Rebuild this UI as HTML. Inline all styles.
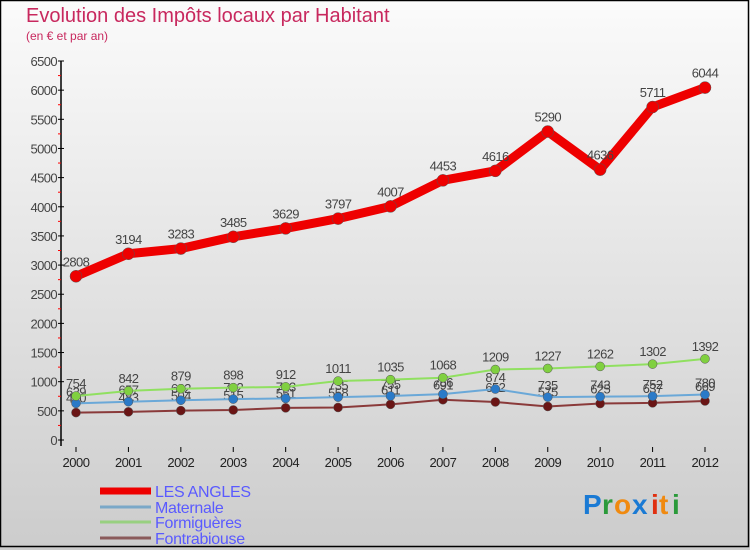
<!DOCTYPE html>
<html><head><meta charset="utf-8"><style>
html,body{margin:0;padding:0}
body{width:750px;height:550px;overflow:hidden;font-family:"Liberation Sans","DejaVu Sans",sans-serif}
</style></head><body>
<svg id="chart" width="750" height="550" viewBox="0 0 750 550" xmlns="http://www.w3.org/2000/svg">
<defs><linearGradient id="bg" x1="0" y1="0" x2="0" y2="1"><stop offset="0" stop-color="#fbfbfb"/><stop offset="1" stop-color="#cccccc"/></linearGradient></defs>
<rect x="0" y="0" width="750" height="550" fill="url(#bg)"/>
<rect x="0.5" y="0.5" width="748" height="546" fill="none" stroke="#000" stroke-width="1.5"/>
<text x="26" y="22" font-size="20" fill="#c8285e">Evolution des Impôts locaux par Habitant</text>
<text x="26" y="40" font-size="12" fill="#c8285e">(en € et par an)</text>
<g id="axes"></g><g id="series"></g><g id="legend"></g>
<g font-size="28" font-weight="bold">
<text x="583" y="514" fill="#1a7ad4">P</text><text x="602" y="514" fill="#2a9a3a">r</text><text x="614" y="514" fill="#f08a10">o</text><text x="632" y="514" fill="#1a7ad4">x</text><text x="651" y="514" fill="#e03010">i</text><text x="659" y="514" fill="#f08a10">t</text><text x="672" y="514" fill="#2a9a3a">i</text>
</g>
</svg>
<script>
const years=[2000,2001,2002,2003,2004,2005,2006,2007,2008,2009,2010,2011,2012];
const lesAngles=[2808,3194,3283,3485,3629,3797,4007,4453,4616,5290,4636,5711,6044];
const maternale=[629,657,682,702,713,735,755,786,874,735,743,752,780];
const formigueres=[754,842,879,898,912,1011,1035,1068,1209,1227,1262,1302,1392];
const fontrabiouse=[470,483,504,515,551,558,611,691,652,575,625,637,669];
const yTicks=[0,500,1000,1500,2000,2500,3000,3500,4000,4500,5000,5500,6000,6500];
const NS="http://www.w3.org/2000/svg";
const X=i=>76+i*(705-76)/(years.length-1);
const Y=v=>440-v*(440-61)/6500;
function mk(tag,attrs,parent,txt){const e=document.createElementNS(NS,tag);for(const k in attrs)e.setAttribute(k,attrs[k]);if(txt!==undefined)e.textContent=txt;parent.appendChild(e);return e;}
const axes=document.getElementById('axes');
let a=mk('line',{x1:61,y1:61,x2:61,y2:446,stroke:'#000','stroke-width':1.5},axes);


yTicks.forEach((t,i)=>{
  const y=Y(t);
  mk('line',{x1:58,y1:y,x2:64,y2:y,stroke:'#000'},axes);
  const tl=mk('text',{x:57,y:y+5,'font-size':13,fill:'#444','text-anchor':'end','letter-spacing':'-0.6'},axes,String(t));
  
  
  if(i<yTicks.length-1){const ym=Y(t+250);mk('line',{x1:58,y1:ym,x2:61,y2:ym,stroke:'#f00'},axes);}
});
years.forEach((yr,i)=>{
  const x=X(i);
  mk('line',{x1:x,y1:447,x2:x,y2:452,stroke:'#000'},axes);
  const tl=mk('text',{x:x,y:467,'font-size':13,fill:'#222','text-anchor':'middle','letter-spacing':'-0.5'},axes,String(yr));
  
  
});
const ser=document.getElementById('series');
function draw(data,name,color,lw,r,dot,labOff){
  const g=mk('g',{},ser);
  
  
  const pl=mk('polyline',{points:data.map((v,i)=>X(i)+','+Y(v)).join(' '),fill:'none',stroke:color,'stroke-width':lw,'stroke-linejoin':'round','stroke-linecap':'round'},g);
  
  
  data.forEach((v,i)=>{
    const c=mk('circle',{cx:X(i),cy:Y(v),r:r,fill:dot,stroke:'#555','stroke-width':0.5},g);
    
    
    const t=mk('text',{x:X(i),y:Y(v)-labOff,'font-size':13,fill:'#444','text-anchor':'middle','letter-spacing':'-0.6'},g,String(v));
    
    
  });
}
draw(fontrabiouse,'fontrabiouse','#8a3a3a',2,4.5,'#6a1515',10);
draw(maternale,'maternale','#6aa8d8',2,4.5,'#2a7ac8',7);
draw(formigueres,'formigueres','#90e060',2,4.5,'#80d040',8);
draw(lesAngles,'les-angles','#ee0000',9,6,'#ee0000',10);
const leg=document.getElementById('legend');
[['LES ANGLES','#ee0000',7,491],['Maternale','#7aa8c8',3,507],['Formiguères','#98d080',3,522],['Fontrabiouse','#8a5a5a',3,538]].forEach(([n,c,w,y])=>{
  const g=mk('g',{},leg);
  
  
  mk('line',{x1:100,y1:y,x2:151,y2:y,stroke:c,'stroke-width':w},g);
  mk('text',{x:155,y:y+6,'font-size':16,fill:'#5a5aff','letter-spacing':'-0.3'},g,n);
});
</script>
</body></html>
